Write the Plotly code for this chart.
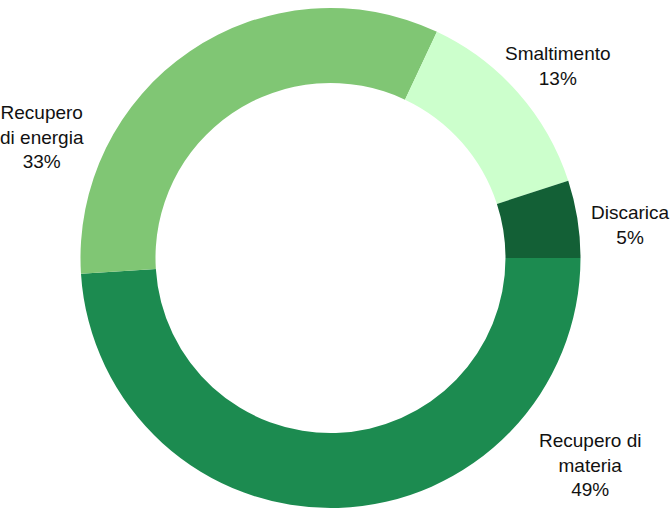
import plotly.graph_objects as go

# Data
categories = ["Recupero di materia", "Recupero di energia", "Smaltimento", "Discarica"]
values = [49, 33, 13, 5]
label_lines = ["Recupero di<br>materia", "Recupero<br>di energia", "Smaltimento", "Discarica"]

# Styles / layout
colors = ["#1C8B50", "#80C674", "#CCFFCC", "#136036"]
W, H = 671, 513
# label centers in pixels (x from left, y from top)
label_pos = [(590, 465), (42, 137), (558, 66), (630, 225)]

fig = go.Figure()
fig.add_trace(go.Pie(
    labels=categories,
    values=values,
    hole=0.70,
    sort=False,
    direction="clockwise",
    rotation=90,
    marker=dict(colors=colors, line=dict(width=0)),
    textinfo="none",
    hoverinfo="label+percent",
    showlegend=False,
    domain=dict(x=[80 / W, 581 / W], y=[1 - 508 / H, 1 - 8 / H]),
))

total = sum(values)
for txt, v, (px, py) in zip(label_lines, values, label_pos):
    fig.add_annotation(
        x=px / W, y=1 - py / H, xref="paper", yref="paper",
        text=f"{txt}<br>{round(100 * v / total)}%",
        showarrow=False, xanchor="center", yanchor="middle",
        font=dict(family="Liberation Sans, Arial, sans-serif", size=19, color="#111111"),
        align="center",
    )

fig.update_layout(
    width=W, height=H,
    margin=dict(l=0, r=0, t=0, b=0),
    paper_bgcolor="white", plot_bgcolor="white",
)

fig.write_html("out.html")
